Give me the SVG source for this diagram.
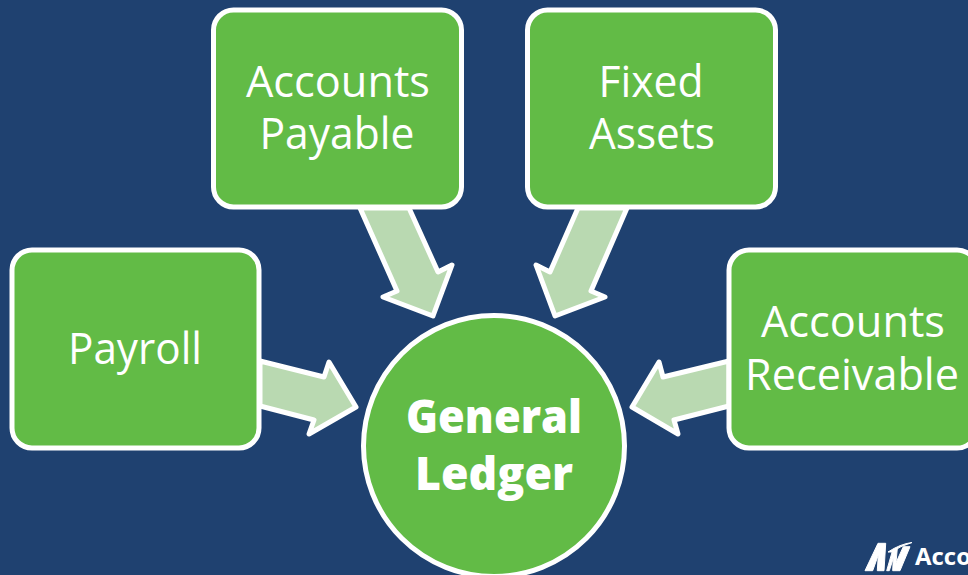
<svg xmlns="http://www.w3.org/2000/svg" width="968" height="575" viewBox="0 0 968 575">
<style>
.box{fill:#62bb46;stroke:#fff;stroke-width:5}
.arrow{fill:#b9d9b1;stroke:#fff;stroke-width:5;stroke-linejoin:round}
text{font-family:"Open Sans","Noto Sans","Liberation Sans",sans-serif;fill:#fff;text-anchor:middle}
.l{font-size:44px}
.b{font-size:46px;font-weight:800}
.mark{fill:#fff;stroke:#fff;stroke-width:1;stroke-linejoin:round}
</style>
<rect width="968" height="575" fill="#1f4170"/>
<g id="connectors">
<path class="arrow" d="M260 361L324 377L329 362L356 407L309 434L314 420L260 406Z"/>
<path class="arrow" d="M360 208L397 291L383 297L433 316L452 265L438 272L409 208Z"/>
<path class="arrow" d="M578 208L550 272L536 265L555 316L605 297L591 291L627 208Z"/>
<path class="arrow" d="M729 361L663 377L659 362L632 407L678 434L674 420L729 406Z"/>
</g>
<g id="payroll"><rect class="box" x="12" y="250" width="247" height="198" rx="20"/><text class="l" x="135" y="364" textLength="134" lengthAdjust="spacingAndGlyphs">Payroll</text></g>
<g id="accounts-payable"><rect class="box" x="213.500" y="10" width="248" height="197" rx="20"/><text class="l" x="338" y="97" textLength="184" lengthAdjust="spacingAndGlyphs">Accounts</text><text class="l" x="337" y="149" textLength="155" lengthAdjust="spacingAndGlyphs">Payable</text></g>
<g id="fixed-assets"><rect class="box" x="527.500" y="10" width="248" height="197" rx="20"/><text class="l" x="651" y="97" textLength="105" lengthAdjust="spacingAndGlyphs">Fixed</text><text class="l" x="652" y="149" textLength="126" lengthAdjust="spacingAndGlyphs">Assets</text></g>
<g id="accounts-receivable"><rect class="box" x="729" y="250" width="248" height="198" rx="20"/><text class="l" x="853" y="337" textLength="184" lengthAdjust="spacingAndGlyphs">Accounts</text><text class="l" x="852" y="390" textLength="214" lengthAdjust="spacingAndGlyphs">Receivable</text></g>
<g id="general-ledger"><circle class="box" cx="494" cy="446" r="130.500"/><text class="b" x="494" y="433" textLength="176" lengthAdjust="spacingAndGlyphs">General</text><text class="b" x="494" y="490" textLength="158" lengthAdjust="spacingAndGlyphs">Ledger</text></g>
<g id="logo">
<path class="mark" d="M865 570.700L878 543.300L885.700 543.300L884 570.700L877.300 570.700L878.300 555L872.700 570.700Z"/>
<path class="mark" d="M886.700 570.700L892.700 550L897.300 548.300L896 562.700L903.300 546.700L910 546.700L900 570.700L892.700 570.700L893.300 558.300L889.300 570.700Z"/>
<path class="mark" d="M888 552Q900 544 912 542.500Q900 546 892 552Z"/>
<text x="915" y="565" style="text-anchor:start;font-size:24px;font-weight:700" textLength="56" lengthAdjust="spacingAndGlyphs">Acco</text>
</g>
</svg>
